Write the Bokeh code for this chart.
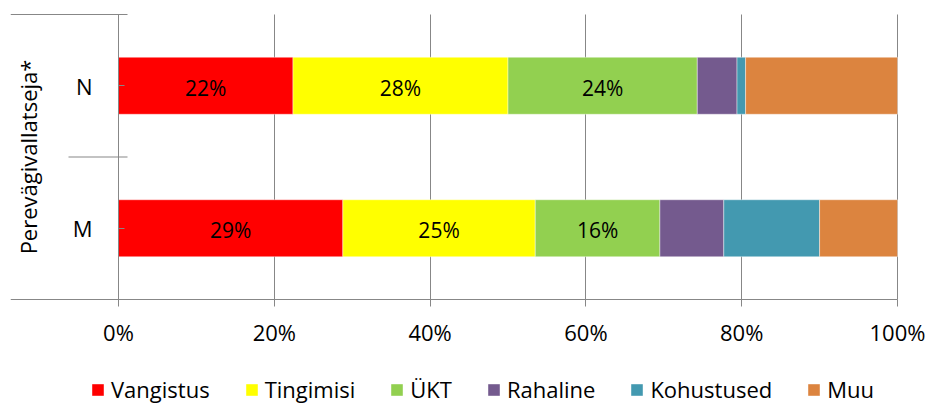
from bokeh.plotting import figure
from bokeh.models import ColumnDataSource, Range1d, FixedTicker, PrintfTickFormatter, Legend, LegendItem
from bokeh.core.properties import value
from bokeh.embed import file_html
from bokeh.resources import INLINE

# ---------------- data ----------------
categories = ["M", "N"]
group_label = "Perevägivallatseja*"
series = ["Vangistus", "Tingimisi", "ÜKT", "Rahaline", "Kohustused", "Muu"]
colors = ["#FF0000", "#FFFF00", "#92D050", "#745A8E", "#4399B0", "#DC843F"]
vangistus = [28.8, 22.4]
tingimisi = [24.7, 27.6]
ykt = [16.0, 24.3]
rahaline = [8.2, 5.1]
kohustused = [12.3, 1.1]
muu = [10.0, 19.5]
labelled_series = ["Vangistus", "Tingimisi", "ÜKT"]
x_ticks = [0, 20, 40, 60, 80, 100]

values = [vangistus, tingimisi, ykt, rahaline, kohustused, muu]

# ---------------- layout constants ----------------
FONT = "Open Sans"
GRAY = "#878787"
px_x = 7.79                 # pixels per percent
px_y = 142.5                # pixels per category
x_start = -108 / px_x       # frame area left of 0 %
x_end = 100 + 33 / px_x     # room right of 100 % for its tick label
n_cat = len(categories)
y_end = n_cat + 1 / px_y
y_start = -104 / px_y       # room below the axis for tick labels and legend

ypos = [i + 0.5 for i in range(n_cat)]
data = {"y": ypos}
for s, v in zip(series, values):
    data[s] = v
src = ColumnDataSource(data)

p = figure(width=930, height=403,
           x_range=Range1d(x_start, x_end), y_range=Range1d(y_start, y_end),
           output_backend="svg", toolbar_location=None,
           min_border_left=10, min_border_right=0,
           min_border_top=13, min_border_bottom=0)
p.outline_line_color = None
p.background_fill_color = "white"

# vertical grid lines, limited to the plotting band
p.ygrid.visible = False
try:
    p.xgrid.ticker = FixedTicker(ticks=x_ticks)
    p.xgrid.grid_line_color = GRAY
    p.xgrid.cross_bounds = (0, n_cat)
except Exception:
    p.xgrid.visible = False
    p.segment(x0=x_ticks, y0=[0] * len(x_ticks), x1=x_ticks, y1=[n_cat] * len(x_ticks),
              line_color=GRAY, line_width=1)

renderers = p.hbar_stack(series, y="y", height=0.4, color=colors, source=src,
                         line_color="white", line_width=0.6, line_alpha=0.7)

# percentage labels for the first segments
lx, ly, lt = [], [], []
for ci in range(n_cat):
    start = 0.0
    for s, v in zip(series, values):
        if s in labelled_series:
            lx.append(start + v[ci] / 2)
            ly.append(ypos[ci])
            lt.append(f"{round(v[ci])}%")
        start += v[ci]
p.text(x=lx, y=ly, text=lt, text_align="center", text_baseline="middle",
       text_font=value(FONT), text_font_size="21px", text_color="black", y_offset=2)

# category separators (extending to the left of the axis)
sep_right = 9 / px_x
mid_left = -50 / px_x
p.segment(x0=[x_start, mid_left], y0=[n_cat, 1], x1=[sep_right, sep_right], y1=[n_cat, 1],
          line_color=GRAY, line_width=1)

# x axis
p.xaxis.fixed_location = 0
p.xaxis.bounds = (x_start, 100)
p.xaxis.ticker = FixedTicker(ticks=x_ticks)
p.xaxis.formatter = PrintfTickFormatter(format="%d%%")
p.xaxis.major_label_text_font = FONT
p.xaxis.major_label_text_font_size = "22px"
p.xaxis.major_label_text_color = "black"
p.xaxis.axis_line_color = GRAY
p.xaxis.major_tick_line_color = GRAY
p.xaxis.major_tick_out = 7
p.xaxis.major_tick_in = 0
p.xaxis.minor_tick_line_color = None
p.xaxis.major_label_standoff = 10

# y axis
p.yaxis.fixed_location = 0
p.yaxis.bounds = (0, n_cat)
p.yaxis.ticker = FixedTicker(ticks=ypos)
p.yaxis.major_label_overrides = {y: c for y, c in zip(ypos, categories)}
p.yaxis.major_label_text_font = FONT
p.yaxis.major_label_text_font_size = "22px"
p.yaxis.major_label_text_color = "black"
p.yaxis.axis_line_color = GRAY
p.yaxis.major_tick_line_color = GRAY
p.yaxis.major_tick_in = 6
p.yaxis.major_tick_out = 0
p.yaxis.minor_tick_line_color = None
p.yaxis.major_label_standoff = 26
p.yaxis.axis_label = group_label
p.yaxis.axis_label_text_font = FONT
p.yaxis.axis_label_text_font_size = "22px"
p.yaxis.axis_label_text_font_style = "normal"
p.yaxis.axis_label_text_color = "black"
p.yaxis.axis_label_standoff = 27

# legend, at the bottom of the frame
items = [LegendItem(label=s, renderers=[r]) for s, r in zip(series, renderers)]
legend = Legend(items=items, orientation="horizontal", location=(80, -1),
                glyph_width=15, glyph_height=15, label_standoff=6, spacing=34,
                padding=0, margin=0, border_line_color=None, background_fill_alpha=0,
                label_text_font=FONT, label_text_font_size="22px", label_text_color="black")
p.add_layout(legend, "center")

open("out.html", "w").write(file_html(p, INLINE))
